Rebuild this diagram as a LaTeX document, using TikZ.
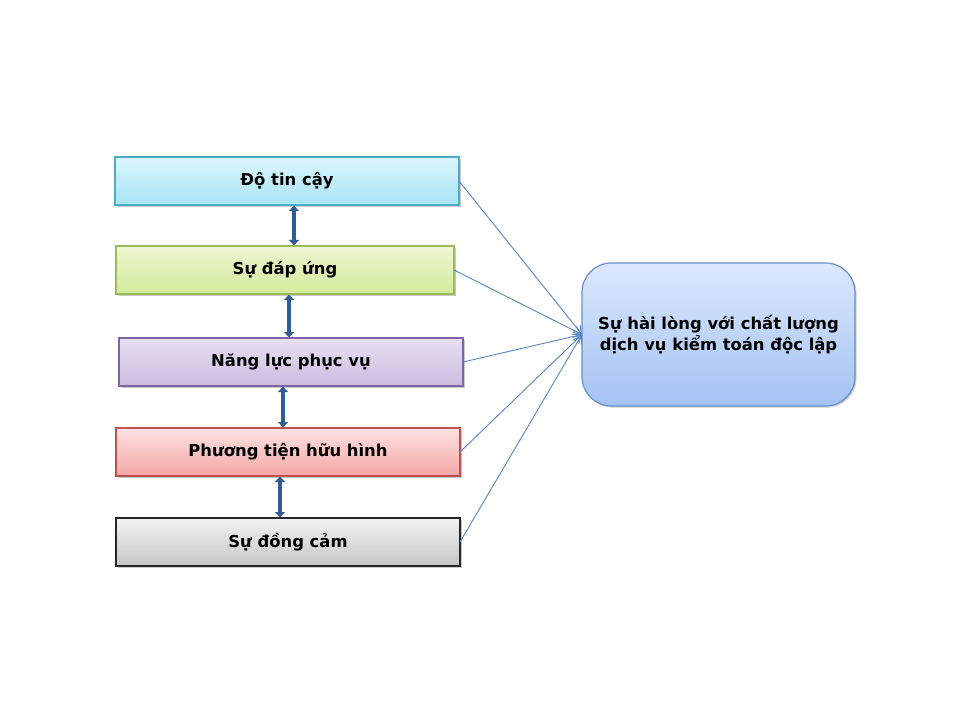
\documentclass[tikz,border=0pt]{standalone}
\usepackage{fontspec}
\setmainfont{DejaVu Sans}
\usetikzlibrary{arrows.meta,shadows}
\definecolor{arrowblue}{HTML}{2F5D91}
\definecolor{lineblue}{HTML}{5B87C4}
\definecolor{c1t}{HTML}{DDF6FD}\definecolor{c1b}{HTML}{A6E4F6}\definecolor{c1d}{HTML}{4BACC6}
\definecolor{c2t}{HTML}{EDF6D2}\definecolor{c2b}{HTML}{D3EA9C}\definecolor{c2d}{HTML}{9BBB59}
\definecolor{c3t}{HTML}{E8E0F2}\definecolor{c3b}{HTML}{CBBCE0}\definecolor{c3d}{HTML}{8064A2}
\definecolor{c4t}{HTML}{FDE2E2}\definecolor{c4b}{HTML}{F4A7A5}\definecolor{c4d}{HTML}{C0504D}
\definecolor{c5t}{HTML}{F2F2F2}\definecolor{c5b}{HTML}{C6C6C6}\definecolor{c5d}{HTML}{262626}
\definecolor{rt}{HTML}{DCE8FC}\definecolor{rb}{HTML}{A3C2F3}\definecolor{rd}{HTML}{6690CC}
\tikzset{
  box/.style={draw, line width=0.9pt, minimum height=36pt, inner sep=0pt, outer sep=0pt,
    font=\fontsize{12.3}{14}\selectfont\bfseries,
    drop shadow={shadow xshift=1.2pt, shadow yshift=-1.2pt, opacity=0.35, fill=black!60}},
  dbl/.style={arrowblue, line width=3.4pt, {Triangle[length=4pt,width=7.5pt]}-{Triangle[length=4pt,width=7.5pt]}, shorten <=0.5pt, shorten >=0.5pt},
  conn/.style={lineblue, line width=0.7pt, -{Straight Barb[length=6pt,width=7pt]}}
}
\begin{document}
\begin{tikzpicture}[x=0.75pt,y=-0.75pt]
\useasboundingbox (0,0) rectangle (960,720);
\node[box, minimum width=258pt, draw=c1d, top color=c1t, bottom color=c1b] (b1) at (287,181) {Độ tin cậy};
\node[box, minimum width=253.5pt, draw=c2d, top color=c2t, bottom color=c2b] (b2) at (285,270) {Sự đáp ứng};
\node[box, minimum width=258pt, draw=c3d, top color=c3t, bottom color=c3b] (b3) at (291,362) {Năng lực phục vụ};
\node[box, minimum width=258pt, draw=c4d, top color=c4t, bottom color=c4b] (b4) at (288,452) {Phương tiện hữu hình};
\node[box, minimum width=258pt, draw=c5d, top color=c5t, bottom color=c5b] (b5) at (288,542) {Sự đồng cảm};
\node[draw=rd, line width=0.9pt, rounded corners=22pt, minimum width=204.75pt, minimum height=107.25pt,
  top color=rt, bottom color=rb, inner sep=0pt, outer sep=0pt, align=center,
  font=\fontsize{12.3}{16}\selectfont\bfseries,
  drop shadow={shadow xshift=1.2pt, shadow yshift=-1.2pt, opacity=0.3, fill=black!60}] (r) at (718.5,334.5)
  {Sự hài lòng với chất lượng\\dịch vụ kiểm toán độc lập};
\draw[dbl] (b1.south -| 294,0) -- (b2.north -| 294,0);
\draw[dbl] (b2.south -| 289,0) -- (b3.north -| 289,0);
\draw[dbl] (b3.south -| 283,0) -- (b4.north -| 283,0);
\draw[dbl] (b4.south -| 280,0) -- (b5.north -| 280,0);
\foreach \b in {b1,b2,b3,b4,b5} \draw[conn] (\b.east) -- (r.west);
\end{tikzpicture}
\end{document}
